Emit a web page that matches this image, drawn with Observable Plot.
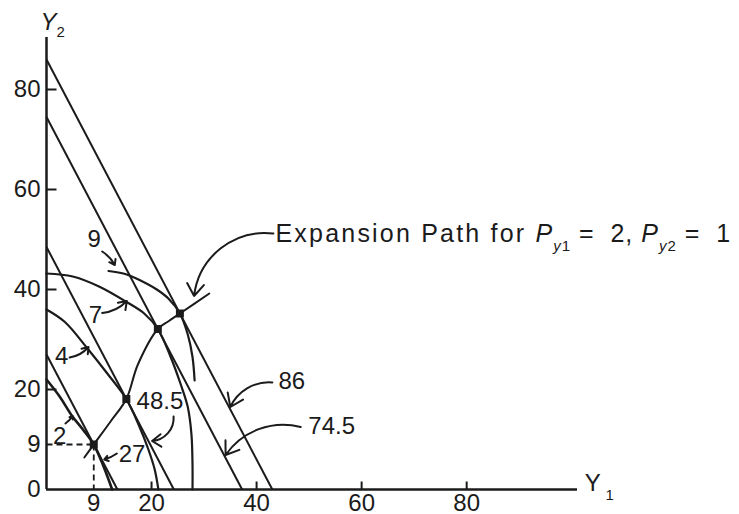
<!DOCTYPE html>
<html>
<head>
<meta charset="utf-8">
<script src="https://cdn.jsdelivr.net/npm/d3@7"></script>
<script src="https://cdn.jsdelivr.net/npm/@observablehq/plot@0.6"></script>
<style>
  html, body { margin: 0; padding: 0; background: #fff; }
  #chart svg [aria-label^="x-axis"] text,
  #chart svg [aria-label^="y-axis"] text { font-size: 24px; }
</style>
</head>
<body>
<div id="chart"></div>
<script>
// Output prices and the revenue level of each iso-revenue line
const priceY1 = 2;
const priceY2 = 1;
const revenues = [27, 48.5, 74.5, 86];

// Production possibility curves (Y1, Y2) for input levels 2, 4, 7 and 9
const ppf2 = [[0, 22], [2.5, 18.6], [4.8, 14.8], [7, 11.9], [9, 9], [10.4, 5.8], [11.6, 2.6], [12.5, 0]];
const ppf4 = [[0, 36], [3.5, 33.5], [7.8, 28.2], [11.5, 23.3], [15.2, 18.1], [17.6, 12.8], [19.4, 8], [20.6, 4], [21.3, 0]];
const ppf7 = [[0, 43.2], [5, 42.6], [10, 40.6], [15.4, 37.4], [18.6, 35.2], [21.2, 32.1], [23.6, 26.6], [25.5, 21.2], [26.9, 16.5], [27.6, 11], [27.8, 5], [27.8, 0]];
const ppf9 = [[11.8, 43.7], [15, 43.1], [17.9, 41.8], [21, 40], [23.2, 38.2], [25.4, 35.2], [26.9, 31], [27.8, 26.5], [28.2, 21.8]];

// Points where each curve touches its iso-revenue line
const tangencies = [[9, 9], [15.2, 18.1], [21.2, 32.1], [25.4, 35.2]];

// Expansion path through the tangency points
const expansionPath = [[7.2, 6.4], [9, 9], [12.2, 13.6], [15.2, 18.1], [17.4, 25], [21.2, 32.1], [23.3, 33.7], [25.4, 35.2], [31, 39.2]];

// Axis ticks
const xTickLabels = [9, 20, 40, 60, 80];
const yTickLabels = [0, 9, 20, 40, 60, 80];
const xTickMarks = [20, 40, 60, 80];
const yTickMarks = [20, 40, 60, 80];

// Curve and line labels
const curveLabels = [
  {text: "9", Y1: 9.1, Y2: 50.0},
  {text: "7", Y1: 9.3, Y2: 34.8},
  {text: "4", Y1: 2.9, Y2: 26.6},
  {text: "2", Y1: 2.5, Y2: 10.6},
  {text: "27", Y1: 16.3, Y2: 7.1},
  {text: "48.5", Y1: 21.6, Y2: 17.6},
  {text: "86", Y1: 46.7, Y2: 21.6},
  {text: "74.5", Y1: 54.3, Y2: 12.6}
];

// Pointers from the labels to the curves
const pointers = [
  {x1: 10.6, y1: 47.6, x2: 13.0, y2: 44.9, bend: 15},
  {x1: 10.6, y1: 35.3, x2: 15.3, y2: 37.7, bend: -20},
  {x1: 4.4, y1: 26.4, x2: 8.0, y2: 28.5, bend: -20},
  {x1: 3.6, y1: 13.2, x2: 5.0, y2: 14.7, bend: -10},
  {x1: 13.4, y1: 7.2, x2: 11.0, y2: 6.0, bend: 10},
  {x1: 24.2, y1: 14.6, x2: 20.1, y2: 9.7, bend: 45},
  {x1: 43.0, y1: 21.4, x2: 35.0, y2: 16.5, bend: -35},
  {x1: 48.4, y1: 12.5, x2: 34.1, y2: 6.9, bend: -35},
  {x1: 43.2, y1: 51.2, x2: 28.1, y2: 38.7, bend: -45}
];

const expansionText = "Expansion Path for P_y1 = 2, P_y2 = 1";
const expansionAt = {Y1: 43.6, Y2: 51.2};

const ink = "#1b1b1b";
const font = "'Liberation Sans', Arial, Helvetica, sans-serif";

const isoRevenue = revenues.map(r => ({r, x1: 0, y1: r / priceY2, x2: r / priceY1, y2: 0}));
const [g0, g1] = tangencies[0];
const guides = [
  {x1: 0, y1: g1, x2: g0, y2: g1},
  {x1: g0, y1: g1, x2: g0, y2: 0}
];

const curve = (pts, w) => Plot.line(pts, {x: d => d[0], y: d => d[1], curve: "catmull-rom", stroke: ink, strokeWidth: w});
const pointer = p => Plot.arrow([p], {x1: "x1", y1: "y1", x2: "x2", y2: "y2", bend: p.bend, stroke: ink, strokeWidth: 2, headLength: 11, headAngle: 70});

const chart = Plot.plot({
  width: 739,
  height: 514,
  marginLeft: 46,
  marginRight: 162,
  marginTop: 37,
  marginBottom: 25,
  style: {fontFamily: font, fontSize: "24px", background: "#fff", color: ink, overflow: "visible"},
  x: {domain: [0, 101.1], ticks: xTickLabels, tickSize: 0, tickPadding: 4, label: null},
  y: {domain: [0, 90.4], ticks: yTickLabels, tickSize: 0, tickPadding: 6, label: null},
  marks: [
    // axes
    Plot.ruleY([0], {x1: 0, x2: 101.1, stroke: ink, strokeWidth: 2.5}),
    Plot.ruleX([0], {y1: 0, y2: 90.4, stroke: ink, strokeWidth: 2.5}),
    Plot.ruleX(xTickMarks, {y1: 0, y2: 1.5, stroke: ink, strokeWidth: 2}),
    Plot.ruleY(yTickMarks, {x1: 0, x2: 2, stroke: ink, strokeWidth: 2}),
    // dashed guides to the first tangency point
    Plot.link(guides, {x1: "x1", y1: "y1", x2: "x2", y2: "y2", stroke: ink, strokeWidth: 1.8, strokeDasharray: "6,4"}),
    // iso-revenue lines
    Plot.link(isoRevenue, {x1: "x1", y1: "y1", x2: "x2", y2: "y2", stroke: ink, strokeWidth: 2}),
    // production possibility curves
    curve(ppf2, 2.6),
    curve(ppf4, 2.2),
    curve(ppf7, 2.2),
    curve(ppf9, 2.2),
    // expansion path
    curve(expansionPath, 2),
    Plot.dot(tangencies, {x: d => d[0], y: d => d[1], r: 4.5, fill: ink, stroke: "none", symbol: "square"}),
    // labels and pointers
    Plot.text(curveLabels, {x: "Y1", y: "Y2", text: "text", fontSize: 24, fill: ink}),
    ...pointers.map(pointer),
    Plot.text([expansionAt], {x: "Y1", y: "Y2", text: () => expansionText, textAnchor: "start", fontSize: 25, fill: ink}),
    // axis titles
    Plot.text([{Y1: 0.4, Y2: 93.4}], {x: "Y1", y: "Y2", text: () => "Y", fontSize: 24, fontStyle: "italic", fill: ink}),
    Plot.text([{Y1: 0.4, Y2: 93.4}], {x: "Y1", y: "Y2", text: () => "2", fontSize: 15, dx: 12, dy: 10, fill: ink}),
    Plot.text([{Y1: 104, Y2: 1.2}], {x: "Y1", y: "Y2", text: () => "Y", fontSize: 24, fill: ink}),
    Plot.text([{Y1: 104, Y2: 1.2}], {x: "Y1", y: "Y2", text: () => "1", fontSize: 15, dx: 17, dy: 12, fill: ink})
  ]
});

// Rebuild the expansion-path label with italic P and subscripted y1 / y2
const segments = [
  ["Expansion Path for ", "w"], ["P", "i"], ["y", "si"], ["1", "s"], [" =  2, ", ""],
  ["P", "i"], ["y", "si"], ["2", "s"], [" =  1", ""]
];
d3.select(chart).selectAll("text")
  .filter(function() { return this.textContent === expansionText; })
  .each(function() {
    const t = d3.select(this);
    t.text(null).attr("letter-spacing", "1px").style("white-space", "pre");
    let sub = false;
    for (const [s, kind] of segments) {
      const isSub = kind.includes("s");
      const span = t.append("tspan").text(s);
      if (isSub !== sub) span.attr("dy", isSub ? 9 : -9);
      if (isSub) span.attr("font-size", 15);
      if (kind.includes("i")) span.attr("font-style", "italic");
      if (kind.includes("w")) span.attr("letter-spacing", "2.2px");
      sub = isSub;
    }
  });

document.getElementById("chart").appendChild(chart);
</script>
</body>
</html>
